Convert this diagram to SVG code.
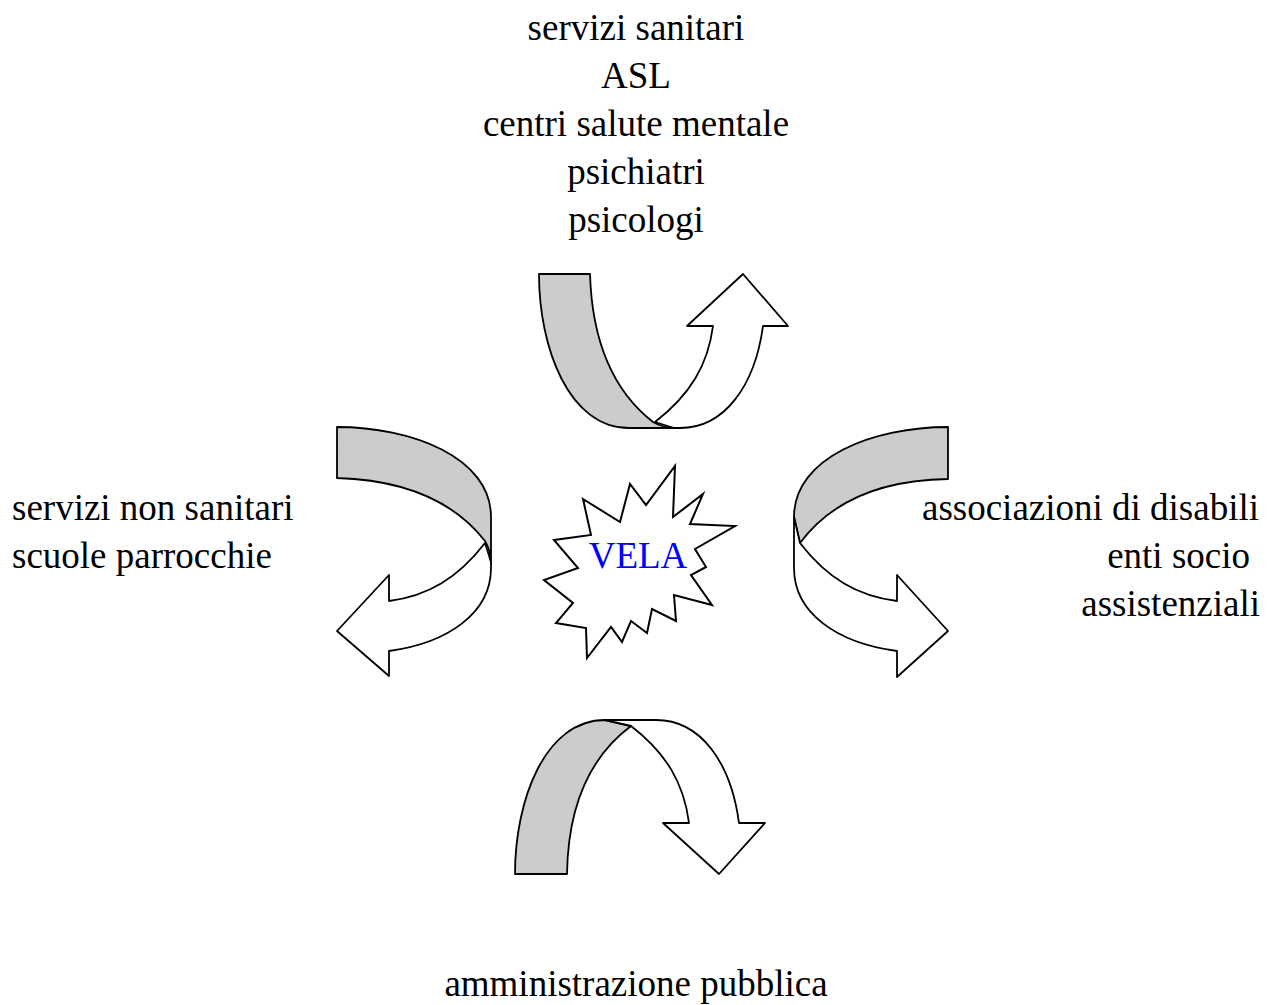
<svg xmlns="http://www.w3.org/2000/svg" width="1274" height="1005" viewBox="0 0 1274 1005">
<style>
text{font-family:"Liberation Serif","Times New Roman",serif;font-size:37px;fill:#000}
.g{fill:#cccccc;stroke:#000;stroke-width:1.8;stroke-linejoin:round}
.w{fill:#fff;stroke:#000;stroke-width:1.8;stroke-linejoin:round}
</style>
<defs>
<g id="uarrow">
<path class="w" d="M655,422 C690,395 708,365 713,326 L687,326 L743,274 L788,326 L763,326 C755,385 725,428 680,428 L674,428 Z"/>
<path class="g" d="M539,274 L590,274 C592,340 612,390 653,422 C660,426 667,428 675,428 L629,428 C569,428 539,348 539,274 Z"/>
</g>
<g id="narrow">
<path class="g" d="M515,874 L567,874 C568,808 588,758 631,726 L605,720 C545,720 515,800 515,874 Z"/>
<path class="w" d="M605,720 L656,720 C701,720 731,763 739,823 L765,823 L719,874 L663,823 L689,823 C684,783 666,753 631,726 Z"/>
</g>
</defs>
<rect width="1274" height="1005" fill="#fff"/>
<g id="connectors">
<g id="arrow-top"><use href="#uarrow"/></g>
<g id="arrow-left"><use href="#uarrow" transform="matrix(0 1 1 0 63 -112)"/></g>
<g id="arrow-right"><use href="#narrow" transform="matrix(0 1 1 0 74 -88)"/></g>
<g id="arrow-bottom"><use href="#narrow"/></g>
</g>
<g id="node-vela">
<polygon fill="#fff" stroke="#000" stroke-width="2" stroke-linejoin="miter" points="675,466 673,517 703,494 690,524 735,526 695,549 706,567 691,575 712,605 674,595 676,621 652,609 647,633 631,621 622,642 611,627 587,658 586,628 556,623 573,603 544,580 578,568 554,540 591,535 583,499 620,522 630,484 646,505"/>
<text x="638" y="568" text-anchor="middle" style="fill:#0000ff">VELA</text>
</g>
<g id="node-sanitari">
<text x="636" y="40" text-anchor="middle">servizi sanitari</text>
<text x="636" y="88" text-anchor="middle">ASL</text>
<text x="636" y="136" text-anchor="middle">centri salute mentale</text>
<text x="636" y="184" text-anchor="middle">psichiatri</text>
<text x="636" y="232" text-anchor="middle">psicologi</text>
</g>
<g id="node-non-sanitari">
<text x="12" y="520">servizi non sanitari</text>
<text x="12" y="568">scuole parrocchie</text>
</g>
<g id="node-associazioni">
<text x="1259" y="520" text-anchor="end">associazioni di disabili</text>
<text x="1250" y="568" text-anchor="end">enti socio</text>
<text x="1260" y="616" text-anchor="end">assistenziali</text>
</g>
<g id="node-amministrazione">
<text x="636" y="996" text-anchor="middle">amministrazione pubblica</text>
</g>
</svg>
